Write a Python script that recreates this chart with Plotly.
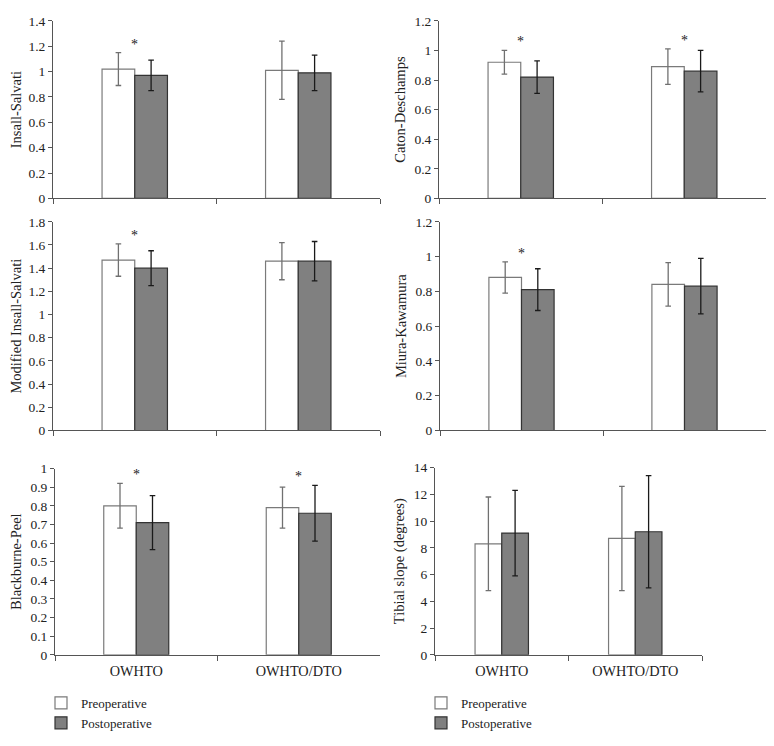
import plotly.graph_objects as go

categories = ["OWHTO", "OWHTO/DTO"]
series_names = ["Preoperative", "Postoperative"]

y_titles = ["Insall-Salvati", "Caton-Deschamps", "Modified Insall-Salvati",
            "Miura-Kawamura", "Blackburne-Peel", "Tibial slope (degrees)"]

# means and standard deviations: [OWHTO, OWHTO/DTO]
insall_pre, insall_pre_sd = [1.02, 1.01], [0.13, 0.23]
insall_post, insall_post_sd = [0.97, 0.99], [0.12, 0.14]
caton_pre, caton_pre_sd = [0.92, 0.89], [0.08, 0.12]
caton_post, caton_post_sd = [0.82, 0.86], [0.11, 0.14]
modins_pre, modins_pre_sd = [1.47, 1.46], [0.14, 0.16]
modins_post, modins_post_sd = [1.40, 1.46], [0.15, 0.17]
miura_pre, miura_pre_sd = [0.88, 0.84], [0.09, 0.125]
miura_post, miura_post_sd = [0.81, 0.83], [0.12, 0.16]
bp_pre, bp_pre_sd = [0.80, 0.79], [0.12, 0.11]
bp_post, bp_post_sd = [0.71, 0.76], [0.145, 0.15]
slope_pre, slope_pre_sd = [8.3, 8.7], [3.5, 3.9]
slope_post, slope_post_sd = [9.1, 9.2], [3.2, 4.2]

# significance markers (*) per category
insall_sig = [True, False]
caton_sig = [True, True]
modins_sig = [True, False]
miura_sig = [True, False]
bp_sig = [True, True]
slope_sig = [False, False]

y_max = [1.4, 1.2, 1.8, 1.2, 1.0, 14]
y_dtick = [0.2, 0.2, 0.2, 0.2, 0.1, 2]

panels = [
    (insall_pre, insall_pre_sd, insall_post, insall_post_sd, insall_sig),
    (caton_pre, caton_pre_sd, caton_post, caton_post_sd, caton_sig),
    (modins_pre, modins_pre_sd, modins_post, modins_post_sd, modins_sig),
    (miura_pre, miura_pre_sd, miura_post, miura_post_sd, miura_sig),
    (bp_pre, bp_pre_sd, bp_post, bp_post_sd, bp_sig),
    (slope_pre, slope_pre_sd, slope_post, slope_post_sd, slope_sig),
]

# the page body has an 8px margin on every side; size the figure to fit the window
OX, OY = 8, 8
W, H = 774 - OX, 746 - 2 * OY
# plot-area boxes in window pixels: (x0, x1, ytop, ybottom)
boxes = [
    (53, 380, 14, 196),
    (439, 766, 14, 196),
    (53, 380, 220, 434),
    (440, 766, 220, 434),
    (55, 380, 473, 664),
    (435, 702, 472, 664),
]


def fx(px):
    return (px - OX) / W


def fy(py):
    return 1 - (py - OY) / H


FONT = "Liberation Serif"
AX = "#555555"
fig = go.Figure()
annotations = []

for i, (pre, pre_sd, post, post_sd, sig) in enumerate(panels):
    n = i + 1
    xa = "x" if n == 1 else f"x{n}"
    ya = "y" if n == 1 else f"y{n}"
    legend_name = "legend" if n == 5 else ("legend2" if n == 6 else None)
    show = legend_name is not None
    kw = dict(legend=legend_name) if show else {}
    fig.add_trace(go.Bar(
        x=categories, y=pre, name=series_names[0], xaxis=xa, yaxis=ya,
        marker=dict(color="white", line=dict(color="#7a7a7a", width=1.2)),
        error_y=dict(type="data", array=pre_sd, color="#707070", thickness=1.3, width=2.8),
        showlegend=show, offsetgroup="pre", **kw))
    fig.add_trace(go.Bar(
        x=categories, y=post, name=series_names[1], xaxis=xa, yaxis=ya,
        marker=dict(color="#808080", line=dict(color="#333333", width=1.2)),
        error_y=dict(type="data", array=post_sd, color="#1a1a1a", thickness=1.3, width=2.8),
        showlegend=show, offsetgroup="post", **kw))

    x0, x1, yt, yb = boxes[i]
    axis_suffix = "" if n == 1 else str(n)
    bottom = n in (5, 6)
    fig.update_layout(**{
        f"xaxis{axis_suffix}": dict(
            domain=[fx(x0), fx(x1)], anchor=ya, type="category",
            showline=True, linecolor=AX, linewidth=1,
            ticks="outside", tickson="boundaries", ticklen=5, tickcolor=AX,
            showticklabels=bottom, showgrid=False, zeroline=False,
            tickfont=dict(family=FONT, size=14.3, color="#222"),
            ticklabelstandoff=3,
        ),
        f"yaxis{axis_suffix}": dict(
            domain=[fy(yb), fy(yt)], anchor=xa,
            range=[0, y_max[i]], dtick=y_dtick[i], tick0=0,
            showline=True, linecolor=AX, linewidth=1,
            ticks="outside", ticklen=4, tickcolor=AX,
            showgrid=False, zeroline=False,
            tickfont=dict(family=FONT, size=13.5, color="#222"),
            title=dict(text=y_titles[i], font=dict(family=FONT, size=14.5, color="#222"), standoff=5),
        ),
    })

    for c, cat in enumerate(categories):
        if sig[c]:
            top = max(pre[c] + pre_sd[c], post[c] + post_sd[c])
            annotations.append(dict(
                x=cat, y=top, xref=xa, yref=ya, text="*", showarrow=False,
                yanchor="bottom", yshift=-1,
                font=dict(family=FONT, size=14, color="#222222")))

fig.update_layout(
    width=W, height=H,
    margin=dict(l=0, r=0, t=0, b=0),
    paper_bgcolor="white", plot_bgcolor="white",
    barmode="group", bargap=0.6, bargroupgap=0,
    annotations=annotations,
    font=dict(family=FONT, color="#222"),
    legend=dict(x=fx(41), xanchor="left", y=fy(698), yanchor="top",
                font=dict(family=FONT, size=13, color="#222"),
                bgcolor="rgba(0,0,0,0)", tracegroupgap=0, itemwidth=30),
    legend2=dict(x=fx(421), xanchor="left", y=fy(698), yanchor="top",
                 font=dict(family=FONT, size=13, color="#222"),
                 bgcolor="rgba(0,0,0,0)", tracegroupgap=0, itemwidth=30),
)

fig.write_html("out.html")
